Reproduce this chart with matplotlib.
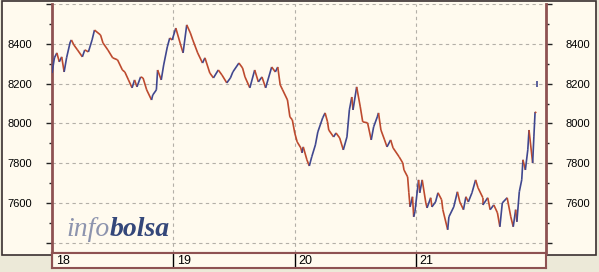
import numpy as np
import matplotlib
matplotlib.use("Agg")
import matplotlib.pyplot as plt
from matplotlib.collections import LineCollection
from matplotlib.patches import Rectangle

# intraday index level, x = day of month (fractional)
t = [18.00, 18.02, 18.04, 18.06, 18.08, 18.10, 18.12, 18.15, 18.16, 18.18,
     18.21, 18.25, 18.27, 18.30, 18.33, 18.35, 18.40, 18.42, 18.46, 18.50,
     18.54, 18.58, 18.60, 18.63, 18.66, 18.68, 18.70, 18.73, 18.75, 18.78,
     18.82, 18.83, 18.86, 18.87, 18.90, 18.92, 18.95, 18.97, 18.99,
     19.02, 19.06, 19.08, 19.11, 19.14, 19.16, 19.20, 19.24, 19.26, 19.30,
     19.33, 19.37, 19.40, 19.44, 19.47, 19.49, 19.54, 19.57, 19.59, 19.63,
     19.67, 19.70, 19.73, 19.76, 19.81, 19.84, 19.86, 19.88, 19.90, 19.94,
     19.96, 19.98,
     20.00, 20.02, 20.05, 20.06, 20.07, 20.10, 20.12, 20.14, 20.17, 20.19,
     20.23, 20.25, 20.27, 20.28, 20.32, 20.34, 20.37, 20.40, 20.43, 20.45,
     20.47, 20.48, 20.51, 20.54, 20.56, 20.60, 20.63, 20.65, 20.68, 20.69,
     20.71, 20.74, 20.76, 20.79, 20.81, 20.86, 20.89, 20.90, 20.93, 20.94,
     20.95, 20.97, 20.98, 20.99,
     21.02, 21.03, 21.05, 21.08, 21.09, 21.12, 21.13, 21.16, 21.18, 21.21,
     21.22, 21.26, 21.27, 21.31, 21.34, 21.36, 21.39, 21.41, 21.43, 21.46,
     21.49, 21.51, 21.55, 21.55, 21.59, 21.61, 21.64, 21.67, 21.69, 21.71,
     21.75, 21.78, 21.80, 21.82, 21.83, 21.85, 21.87, 21.88, 21.90, 21.92,
     21.93, 21.96, 21.97, 21.98, 21.99]
price = [8254, 8330, 8355, 8310, 8335, 8259, 8330, 8410, 8420, 8395,
         8370, 8335, 8370, 8360, 8420, 8470, 8445, 8405, 8370, 8330,
         8320, 8269, 8259, 8219, 8179, 8219, 8184, 8234, 8229, 8169,
         8118, 8143, 8169, 8269, 8219, 8294, 8385, 8430, 8420,
         8480, 8395, 8355, 8496, 8455, 8420, 8355, 8304, 8330, 8254,
         8229, 8269, 8244, 8204, 8229, 8259, 8304, 8279, 8234, 8179,
         8269, 8209, 8234, 8179, 8284, 8259, 8284, 8194, 8169, 8118,
         8033, 8018,
         7952, 7907, 7877, 7852, 7882, 7817, 7786, 7832, 7892, 7957,
         8028, 8053, 8008, 7967, 7932, 7952, 7927, 7867, 7932, 8068,
         8133, 8068, 8184, 8083, 8008, 8003, 7917, 7983, 8033, 8053,
         7967, 7917, 7882, 7917, 7877, 7832, 7801, 7766, 7731, 7651,
         7580, 7631, 7530, 7555,
         7716, 7651, 7716, 7600, 7575, 7626, 7580, 7605, 7651, 7616,
         7566, 7465, 7530, 7580, 7656, 7605, 7566, 7631, 7605, 7651,
         7716, 7676, 7626, 7590, 7626, 7566, 7590, 7550, 7480, 7600,
         7626, 7530, 7480, 7566, 7505, 7656, 7716, 7817, 7766, 7867,
         7967, 7801, 7932, 8058, 8053]
last_t = 21.995
last_price = 8199

days = [18, 19, 20, 21]
major_ticks = [7400, 7600, 7800, 8000, 8200, 8400, 8600]
major_labels = ["", "7600", "7800", "8000", "8200", "8400", ""]
minor_ticks = [7500, 7700, 7900, 8100, 8300, 8500]

cream = "#fffaee"
grey = "#ece9d8"
brown = "#8e5252"

plt.rcParams["font.family"] = ["Liberation Sans", "DejaVu Sans"]

fig = plt.figure(figsize=(5.99, 2.72), dpi=100, facecolor=grey)

# outer panel behind everything
bg = fig.add_axes([0, 0, 1, 1], zorder=-10)
bg.set_xlim(0, 599)
bg.set_ylim(272, 0)
bg.axis("off")
bg.add_patch(Rectangle((1.5, 0.5), 594, 254, facecolor=cream,
                       edgecolor="#3a3030", lw=1.2))

ax = fig.add_axes([52 / 599, 19 / 272, 494 / 599, 249 / 272])
ax.set_facecolor(cream)
ax.set_xlim(18, 22.07)
ax.set_ylim(7348, 8601)

ax.set_yticks(major_ticks)
ax.set_yticklabels(major_labels)
ax.set_yticks(minor_ticks, minor=True)
ax.tick_params(axis="y", which="major", length=4.3, width=1, color="#222222",
               labelsize=8, pad=10, left=True, right=True,
               labelleft=True, labelright=True)
ax.tick_params(axis="y", which="minor", length=2.5, width=1, color="#222222",
               left=True, right=True)
ax.set_xticks([])

for y in major_ticks:
    ax.axhline(y, color="#b4b0a8", lw=0.8, ls=(0, (3, 3)), zorder=1)
for d in days[1:]:
    ax.axvline(d, color="#b4b0a8", lw=0.8, ls=(0, (3, 3)), zorder=1)

for side in ["left", "right"]:
    ax.spines[side].set_color(brown)
    ax.spines[side].set_linewidth(2)
ax.spines["top"].set_visible(False)
ax.spines["bottom"].set_color(brown)
ax.spines["bottom"].set_linewidth(1.5)

# price path coloured by direction
pts = np.column_stack([t, price])
segs = np.stack([pts[:-1], pts[1:]], axis=1)
up = np.diff(price) >= 0
cols = np.where(up, "#40478f", "#bd4a2e")
ax.add_collection(LineCollection(segs, colors=cols, linewidths=1.2, zorder=3))
ax.plot([last_t], [last_price], marker="|", ms=4, mew=1.2, color="#40478f",
        zorder=3)

# watermark
ax.text(110 / 599, 1 - 236 / 272, "info", ha="right", va="baseline",
        family="Liberation Serif", style="italic", fontsize=20,
        color="#8d94ae", transform=fig.transFigure, zorder=2)
ax.text(110 / 599, 1 - 236 / 272, "bolsa", ha="left", va="baseline",
        family="Liberation Serif", style="italic", weight="bold",
        fontsize=20, color="#34477a", transform=fig.transFigure, zorder=2)

# day strip under the chart
sax = fig.add_axes([52 / 599, 4 / 272, 494 / 599, 15 / 272])
sax.set_facecolor(cream)
sax.set_xlim(18, 22.07)
sax.set_ylim(0, 1)
sax.set_xticks([])
sax.set_yticks([])
for s in sax.spines.values():
    s.set_color(brown)
    s.set_linewidth(1.5)
for d in days:
    sax.axvline(d, color="black", lw=1.5 if d == 18 else 1)
    sax.text(d + 0.03, 0.45, str(d), ha="left", va="center", fontsize=9,
             color="black")

fig.savefig("out.png", dpi=100, facecolor=grey)
